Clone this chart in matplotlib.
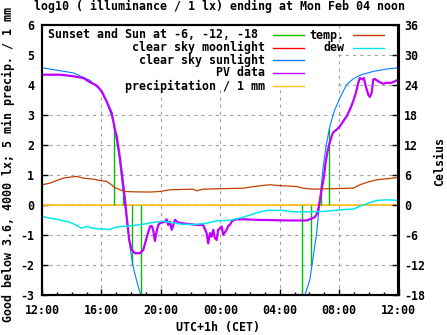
import matplotlib
matplotlib.use('Agg')
import matplotlib.pyplot as plt
import numpy as np
from matplotlib.lines import Line2D
from matplotlib.patches import Rectangle
from matplotlib.ticker import MultipleLocator, FixedLocator

# ---------------- data (hours after 12:00) ----------------
sun_event_h = [4.85, 5.47, 6.08, 6.66, 17.52, 18.12, 18.75, 19.33]
sun_event_v = [2.72, 0.33, -2.0, -3.0, -3.0, -2.0, 0.42, 2.57]

clear_sun_h = [0.0, 2.11, 3.23, 3.90, 4.35, 4.80, 5.18, 5.47, 5.70, 5.92, 6.14, 6.48, 6.66, 6.95,
               np.nan,
               17.45, 17.70, 18.03, 18.26, 18.49, 18.71, 18.93, 19.16, 19.38, 19.60, 19.72,
               20.05, 20.50, 20.95, 21.40, 22.30, 23.20, 24.0]
clear_sun_v = [4.56, 4.39, 4.14, 3.83, 3.44, 2.78, 1.67, 0.40, -0.50, -1.40, -2.07, -2.73, -3.0, -3.6,
               np.nan,
               -3.6, -3.0, -2.5, -1.72, -0.94, 0.17, 1.28, 2.06, 2.61, 3.0, 3.17,
               3.55, 4.0, 4.19, 4.31, 4.44, 4.52, 4.56]

moon_h = []
moon_v = []

pv_h = [0.0, 1.21, 2.09, 2.78, 3.23, 3.68, 4.02, 4.35, 4.69, 4.91, 5.03, 5.25, 5.43, 5.59, 5.70,
        5.87, 6.04, 6.26, 6.59, 6.82, 7.04, 7.27, 7.38, 7.49, 7.60, 7.71, 7.83, 7.94, 8.28, 8.39,
        8.50, 8.61, 8.73, 8.84, 8.95, 9.17, 9.51, 9.96, 10.41, 10.85, 11.08, 11.19, 11.31, 11.42,
        11.53, 11.64, 11.76, 11.86, 11.98, 12.09, 12.20, 12.43, 12.54, 12.65, 12.77, 12.87, 13.10,
        13.55, 14.45, 16.69, 17.81, 18.03, 18.37, 18.53, 18.64, 18.75, 18.86, 18.98, 19.09, 19.20,
        19.33, 19.50, 19.60, 19.83, 20.05, 20.28, 20.50, 20.73, 20.95, 21.13, 21.29, 21.40, 21.58,
        21.67, 21.80, 21.96, 22.07, 22.19, 22.30, 22.41, 22.63, 22.97, 23.20, 23.53, 23.76, 24.0]
pv_v = [4.33, 4.33, 4.28, 4.22, 4.08, 3.97, 3.78, 3.44, 3.06, 2.50, 2.28, 1.55, 0.83, 0.17, -0.39,
        -1.17, -1.50, -1.61, -1.61, -1.50, -1.10, -0.72, -0.70, -0.85, -1.20, -0.90, -0.67, -0.61,
        -0.56, -0.48, -0.67, -0.56, -0.83, -0.67, -0.50, -0.59, -0.62, -0.64, -0.67, -0.67, -0.94,
        -1.28, -0.94, -1.06, -0.83, -1.11, -1.17, -0.83, -0.78, -0.72, -1.00, -0.83, -0.70, -0.67,
        -0.56, -0.52, -0.48, -0.48, -0.50, -0.52, -0.52, -0.48, -0.41, -0.28, -0.06, 0.28, 0.61,
        0.94, 1.39, 1.72, 2.00, 2.28, 2.41, 2.50, 2.61, 2.78, 2.94, 3.17, 3.44, 3.72, 4.06, 4.22,
        4.17, 4.22, 3.94, 3.67, 3.59, 3.72, 4.17, 4.19, 4.11, 4.03, 4.06, 4.06, 4.11, 4.17]

precip_h = [0.0, 24.0]
precip_v = [0.0, 0.0]

temp_h = [0.0, 0.54, 0.99, 1.43, 1.88, 2.34, 2.78, 3.45, 3.90, 4.35, 4.69, 4.91, 5.13, 5.25, 5.59,
          6.14, 7.27, 7.94, 8.61, 10.18, 10.41, 10.85, 13.55, 14.0, 14.67, 15.34, 16.24, 17.14,
          17.58, 18.26, 20.95, 21.40, 21.85, 22.52, 23.20, 24.0]
temp_c = [4.0, 4.33, 4.87, 5.33, 5.53, 5.67, 5.33, 5.13, 4.87, 4.67, 4.0, 3.4, 3.2, 3.0, 2.67,
          2.6, 2.55, 2.67, 3.0, 3.13, 2.8, 3.13, 3.33, 3.53, 3.8, 4.0, 3.8, 3.67,
          3.33, 3.13, 3.33, 4.0, 4.47, 5.0, 5.2, 5.47]

dew_h = [0.0, 0.54, 0.99, 1.43, 1.88, 2.34, 2.67, 3.01, 3.45, 3.90, 4.58, 4.80, 5.25, 5.92, 6.82,
         7.49, 8.16, 8.84, 9.51, 10.41, 11.08, 11.76, 12.65, 13.55, 14.45, 15.12, 16.24, 16.91,
         18.03, 18.90, 20.50, 20.95, 21.62, 21.85, 22.52, 23.20, 24.0]
dew_c = [-2.33, -2.67, -2.87, -3.2, -3.47, -4.13, -4.67, -4.33, -4.67, -4.8, -4.93, -4.6, -4.33,
         -4.2, -3.87, -3.5, -3.27, -3.6, -3.9, -3.9, -3.67, -3.2, -3.1, -2.47, -1.6, -1.13, -1.1,
         -1.4, -1.4, -1.33, -0.9, -0.87, 0.0, 0.2, 0.87, 1.0, 0.9]

x_tick_h = [0, 4, 8, 12, 16, 20, 24]
x_tick_labels = ['12:00', '16:00', '20:00', '00:00', '04:00', '08:00', '12:00']
y_ticks = [-3, -2, -1, 0, 1, 2, 3, 4, 5, 6]
y2_ticks = [-18, -12, -6, 0, 6, 12, 18, 24, 30, 36]

# ---------------- styles ----------------
C_GREEN = '#00c000'
C_RED = '#ff0000'
C_BLUE = '#0080ff'
C_PURPLE = '#c000ff'
C_YELLOW = '#ffc020'
C_TEMP = '#c04000'
C_DEW = '#00e8e8'

W, H, DPI = 447, 335, 100
plt.rcParams['font.family'] = ['DejaVu Sans Mono']
plt.rcParams['font.weight'] = 'bold'
plt.rcParams['font.size'] = 8.4
plt.rcParams['lines.scale_dashes'] = False

fig = plt.figure(figsize=(W / DPI, H / DPI), dpi=DPI)
L, R, T, B = 42, 398.5, 24.5, 295


def fx(px):
    return px / W


def fy(py):
    return 1 - py / H


ax = fig.add_axes([fx(L), fy(B), (R - L) / W, (B - T) / H])
ax.set_xlim(0, 24)
ax.set_ylim(-3, 6)
ax2 = ax.twinx()
ax2.set_ylim(-18, 36)

ax.set_axisbelow(True)
ax.grid(True, which='major', color='#a0a0a0', linestyle=(0, (2.2, 3.0)), linewidth=0.8)

# opaque key area (covers grid only)
ax.add_patch(Rectangle((0, (B - 89) / (B - T)), (337 - L) / (R - L), 1 - (B - 89) / (B - T),
                       transform=ax.transAxes, facecolor='white', edgecolor='none', zorder=1))

ax.plot(precip_h, precip_v, color=C_YELLOW, lw=1.3, zorder=2)
ax.vlines(sun_event_h, 0, sun_event_v, colors=C_GREEN, lw=1.0, zorder=3)
ax.plot(moon_h, moon_v, color=C_RED, lw=0.8, zorder=3)
ax.plot(clear_sun_h, clear_sun_v, color=C_BLUE, lw=0.8, zorder=3)
ax.plot(pv_h, pv_v, color=C_PURPLE, lw=1.6, zorder=4)
ax2.plot(temp_h, temp_c, color=C_TEMP, lw=0.9)
ax2.plot(dew_h, dew_c, color=C_DEW, lw=1.1)

for s in list(ax.spines.values()) + list(ax2.spines.values()):
    s.set_linewidth(1.5)
    s.set_color('black')

ax.xaxis.set_major_locator(FixedLocator(x_tick_h))
ax.set_xticklabels(x_tick_labels)
ax.xaxis.set_minor_locator(MultipleLocator(1))
ax.yaxis.set_major_locator(FixedLocator(y_ticks))
ax.set_yticklabels([str(v) for v in y_ticks])
ax2.yaxis.set_major_locator(FixedLocator(y2_ticks))
ax2.set_yticklabels([str(v) for v in y2_ticks])

ax.tick_params(axis='x', which='major', direction='in', length=4.3, width=1, pad=6.5)
ax.tick_params(axis='x', which='minor', direction='in', length=2.2, width=1)
ax.tick_params(axis='y', which='major', direction='in', length=4.3, width=1, pad=5.8)
ax2.tick_params(axis='y', which='major', direction='in', length=4.3, width=1, pad=4.0)

# titles / labels
fig.text(fx(220), fy(6), 'log10 ( illuminance / 1 lx) ending at Mon Feb 04 noon',
         ha='center', va='center')
fig.text(fx(218), fy(328), 'UTC+1h (CET)', ha='center', va='center')
fig.text(fx(8.5), fy(164), 'Good below 3.6, 4000 lx; 5 min precip. / 1 mm',
         ha='center', va='center', rotation=90)
fig.text(fx(440), fy(161), 'Celsius', ha='center', va='center', rotation=90)

# key
rows = [35, 47.7, 60.3, 73, 86]
left_entries = [('Sunset and Sun at -6, -12, -18', C_GREEN, 258),
                ('clear sky moonlight', C_RED, 265),
                ('clear sky sunlight', C_BLUE, 265),
                ('PV data', C_PURPLE, 265),
                ('precipitation / 1 mm', C_YELLOW, 265)]
for (lab, col, xe), yr in zip(left_entries, rows):
    fig.text(fx(xe), fy(yr), lab, ha='right', va='center')
    fig.add_artist(Line2D([fx(273), fx(304)], [fy(yr), fy(yr)], color=col, lw=1.0,
                          transform=fig.transFigure))
right_entries = [('temp.', C_TEMP), ('dew', C_DEW)]
for (lab, col), yr in zip(right_entries, rows):
    fig.text(fx(344), fy(yr), lab, ha='right', va='center')
    fig.add_artist(Line2D([fx(353), fx(384)], [fy(yr), fy(yr)], color=col, lw=1.0,
                          transform=fig.transFigure))

fig.savefig('out.png', dpi=DPI)
